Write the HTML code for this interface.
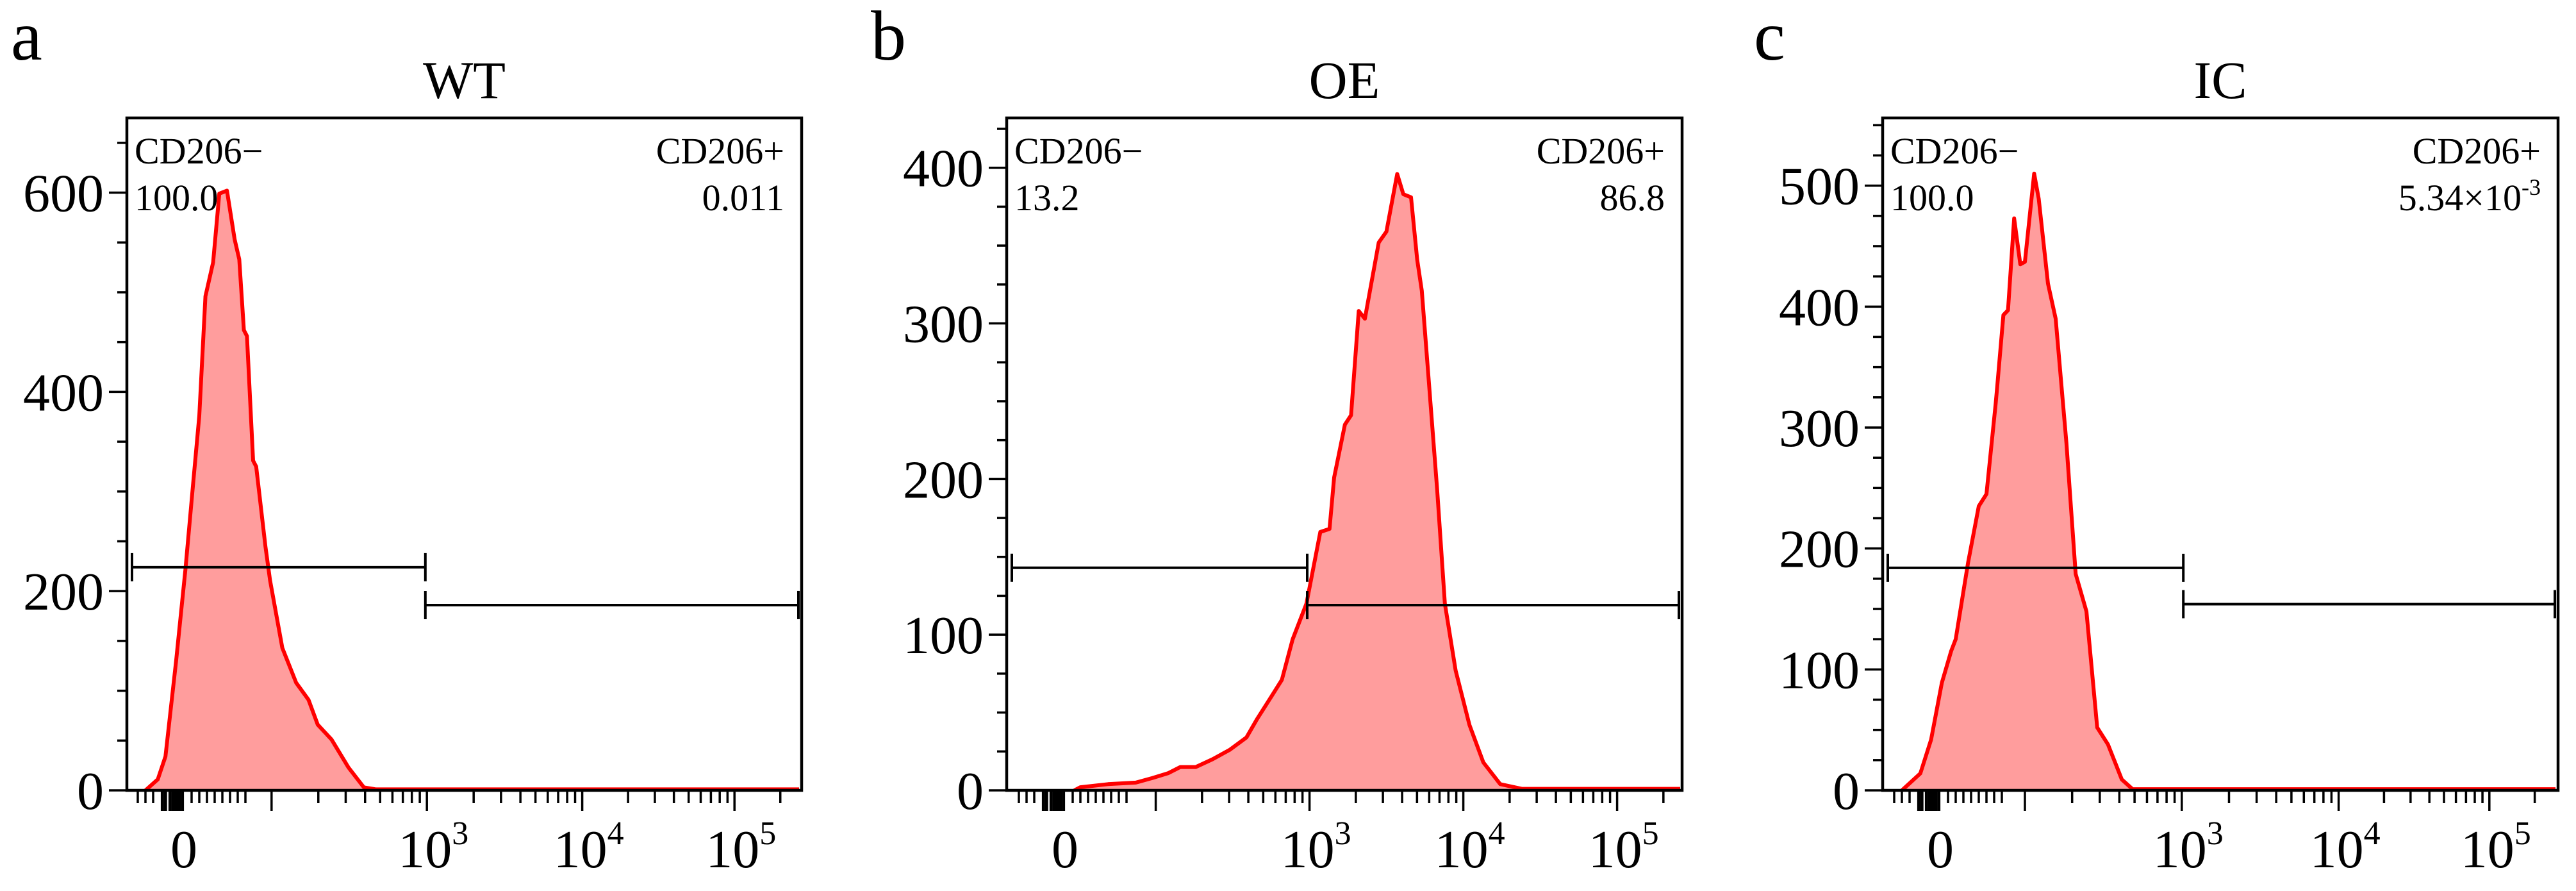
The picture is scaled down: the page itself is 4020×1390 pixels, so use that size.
<!DOCTYPE html>
<html><head><meta charset="utf-8">
<style>
html,body{margin:0;padding:0;background:#fff;}
svg{display:block;font-family:"Liberation Serif",serif;}
</style></head>
<body>
<svg id="fig" width="4020" height="1390" viewBox="0 0 4020 1390" xmlns="http://www.w3.org/2000/svg"></svg>
<script>
// ---- data (x in display units: 0 = value 0, each unit ~ one decade) ----
const wtU     = [-0.25,-0.17,-0.12,-0.05,0.01,0.06,0.10,0.14,0.19,0.23,0.28,0.33,0.36,0.39,0.41,0.45,0.47,0.53,0.56,0.64,0.73,0.81,0.87,0.96,1.07,1.17,1.25,4.0];
const wtCount = [0,11,34,131,222,308,376,496,530,599,602,553,533,462,456,331,325,245,211,143,108,91,66,51,23,3,1,1];
const oeU     = [0.06,0.10,0.28,0.46,0.57,0.67,0.75,0.85,0.96,1.07,1.18,1.25,1.34,1.41,1.48,1.57,1.66,1.72,1.75,1.82,1.86,1.91,1.95,2.04,2.09,2.16,2.20,2.25,2.29,2.32,2.36,2.42,2.47,2.54,2.63,2.72,2.83,2.97,3.0,4.0];
const oeCount = [0,2,4,5,8,11,15,15,20,26,34,46,60,71,97,120,166,168,201,235,241,308,303,352,359,396,383,381,341,321,270,193,120,77,42,18,4,1,1,1];
const icU     = [-0.25,-0.13,-0.06,0.01,0.07,0.10,0.18,0.25,0.30,0.36,0.37,0.41,0.44,0.48,0.52,0.55,0.61,0.64,0.70,0.75,0.82,0.88,0.95,1.02,1.09,1.18,1.25,1.31,4.0];
const icCount = [0,14,42,89,115,125,188,235,245,320,334,393,397,473,435,437,510,489,419,390,287,179,148,52,38,9,1,1,1];
const wtYTicks = [0,200,400,600];
const oeYTicks = [0,100,200,300,400];
const icYTicks = [0,100,200,300,400,500];
const xTickLabels = ["0","10","10","10"];
const xTickExps   = ["","3","4","5"];
const wtXTicks = [0,1.58,2.59,3.58];
const oeXTicks = [0,1.59,2.59,3.59];
const icXTicks = [0,1.57,2.59,3.57];
const wtGates = [[-0.35,1.57,224],[1.57,4.0,186]];
const oeGates = [[-0.36,1.575,143],[1.575,4.0,119]];
const icGates = [[-0.35,1.58,184],[1.58,4.0,154]];
const titles = ["WT","OE","IC"];
const letters = ["a","b","c"];
const negLabels = ["100.0","13.2","100.0"];
const posLabels = ["0.011","86.8","5.34×10"];

const NS="http://www.w3.org/2000/svg";
const svg=document.getElementById('fig');
function mk(tag,attrs,parent){const e=document.createElementNS(NS,tag);for(const k in attrs)e.setAttribute(k,attrs[k]);(parent||svg).appendChild(e);return e;}

const panels=[
 {u:wtU,c:wtCount,yt:wtYTicks,xt:wtXTicks,g:wtGates,left:198,right:1251,zero:287,yMax:675,yMinor:50,letterX:17,key:"wt"},
 {u:oeU,c:oeCount,yt:oeYTicks,xt:oeXTicks,g:oeGates,left:1571,right:2625,zero:1662,yMax:432,yMinor:25,letterX:1359,key:"oe"},
 {u:icU,c:icCount,yt:icYTicks,xt:icXTicks,g:icGates,left:2938,right:3992,zero:3028,yMax:556,yMinor:25,letterX:2737,key:"ic"}
];
const TOP=184,BOT=1233,DEC=240;

panels.forEach((p,i)=>{
  const g=mk('g',{});
  
  
  const xs=u=>p.zero+u*DEC;
  const ys=c=>BOT-c*(BOT-TOP)/p.yMax;
  const mid=(p.left+p.right)/2;
  const lt=mk('text',{x:p.letterX,y:93,'font-size':110},g);lt.textContent=letters[i];
  
  
  const tt=mk('text',{x:mid,y:153,'font-size':83,'text-anchor':'middle'},g);tt.textContent=titles[i];
  
  
  let d='M'+xs(p.u[0])+','+ys(0);
  p.u.forEach((u,k)=>{d+=' L'+xs(u).toFixed(1)+','+ys(p.c[k]).toFixed(1);});
  const fillD=d+' L'+xs(p.u[p.u.length-1])+','+ys(0)+' Z';
  const f=mk('path',{d:fillD,fill:'#ff9d9d',stroke:'none'},g);
  
  
  const l=mk('path',{d:d,fill:'none',stroke:'#ff0000','stroke-width':6,'stroke-linejoin':'round'},g);
  
  
  const b=mk('rect',{x:p.left,y:TOP,width:p.right-p.left,height:BOT-TOP,fill:'none',stroke:'#000','stroke-width':4.5},g);
  
  
  for(let v=0;v<=p.yMax;v+=p.yMinor){
    const major=p.yt.indexOf(v)>=0;
    mk('line',{x1:p.left-(major?28:15),x2:p.left,y1:ys(v),y2:ys(v),stroke:'#000','stroke-width':3.5},g);
  }
  p.yt.forEach(v=>{
    const t=mk('text',{x:p.left-36,y:ys(v)+29,'font-size':84,'text-anchor':'end'},g);t.textContent=v;
    
    
  });
  const decs=[p.xt[1]-(p.xt[2]-p.xt[1]),p.xt[1],p.xt[2],p.xt[3],p.xt[3]+(p.xt[3]-p.xt[2])];
  const xt=(u,len,w)=>{const X=xs(u);if(X<p.left||X>p.right)return;mk('line',{x1:X,x2:X,y1:BOT,y2:BOT+len,stroke:'#000','stroke-width':w||3.5},g);};
  for(let k=0;k<decs.length-1;k++){
    xt(decs[k],32);
    for(let m=2;m<=9;m++)xt(decs[k]+Math.log10(m)*(decs[k+1]-decs[k]),20);
  }
  [-0.3,-0.25,-0.2,-0.14,-0.12,-0.09,-0.07,-0.05,-0.03,-0.01,0.05,0.1,0.15,0.2,0.25,0.3,0.35,0.4].forEach(u=>xt(u,u>-0.16&&u<0.02?32:20,u>-0.16&&u<0.02?5:3.5));
  p.xt.forEach((u,k)=>{
    const t=mk('text',{x:xs(u)+(k?10:0),y:1353,'font-size':84,'text-anchor':'middle'},g);
    t.textContent=xTickLabels[k];
    if(xTickExps[k]){const s=mk('tspan',{dy:-36,'font-size':52},t);s.textContent=xTickExps[k];}
    
    
  });
  p.g.forEach((gt,k)=>{
    const y=ys(gt[2]);
    const x1=Math.max(xs(gt[0]),p.left+8),x2=Math.min(xs(gt[1]),p.right-5);
    const gg=mk('g',{stroke:'#000','stroke-width':4},g);
    
    
    mk('line',{x1:x1,x2:x2,y1:y,y2:y},gg);
    mk('line',{x1:x1,x2:x1,y1:y-22,y2:y+22},gg);
    mk('line',{x1:x2,x2:x2,y1:y-22,y2:y+22},gg);
  });
  const a=mk('text',{x:p.left+12,y:255,'font-size':58},g);a.textContent='CD206\u2212';
  
  
  const a2=mk('text',{x:p.left+12,y:328,'font-size':58},g);a2.textContent=negLabels[i];
  
  
  const bx=p.right-27;
  const c1=mk('text',{x:bx,y:255,'font-size':58,'text-anchor':'end'},g);c1.textContent='CD206+';
  
  
  const c2=mk('text',{x:bx,y:328,'font-size':58,'text-anchor':'end'},g);c2.textContent=posLabels[i];
  if(i===2){const s=mk('tspan',{dy:-24,'font-size':36},c2);s.textContent='-3';}
  
  
});
</script>
</body></html>
